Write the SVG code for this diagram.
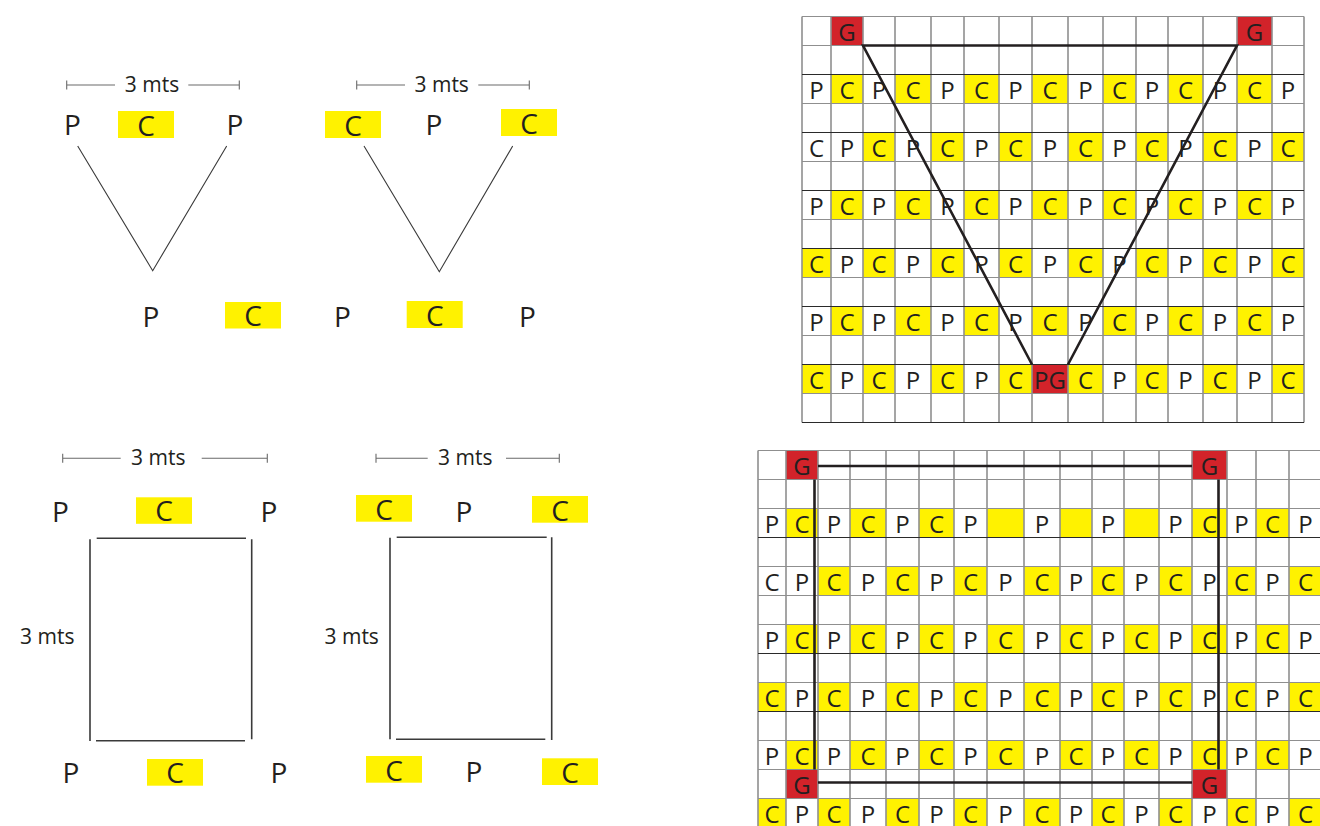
<svg xmlns="http://www.w3.org/2000/svg" width="1320" height="826" viewBox="0 0 1320 826">
<style>
.y{fill:#FFF200}
.r{fill:#D2232A}
.t{font-family:'Open Sans','Noto Sans',sans-serif;font-size:24px;fill:#231F20;text-anchor:middle}
.b{font-size:28px}
.d{font-size:21px}
.gv{stroke:#8f8f8f;stroke-width:1.6;fill:none}
.gh{stroke:#8f8f8f;stroke-width:1.2;fill:none}
.gk{stroke:#2a2a2a;stroke-width:1;fill:none}
.k{stroke:#231F20;stroke-width:2.6;fill:none}
.ln{stroke:#3a3a3a;stroke-width:1.1;fill:none}
.rl{stroke:#3a3a3a;stroke-width:1.6;fill:none}
.dl{stroke:#6a6a6a;stroke-width:1.1;fill:none}
</style>
<rect width="1320" height="826" fill="#ffffff"/>

<!-- Figure 1: triangle P C P -->
<g id="fig-triangle-1">
<path class="dl" d="M66.7 85H115M188.3 85H239.3M66.7 80.5V89.5M239.3 80.5V89.5"/>
<text class="t d" x="152" y="92">3 mts</text>
<rect class="y" x="118" y="111" width="56" height="27"/>
<rect class="y" x="225" y="302" width="56" height="26.5"/>
<text class="t b" x="72.5" y="135">P</text>
<text class="t b" x="146" y="135.5">C</text>
<text class="t b" x="235" y="135">P</text>
<text class="t b" x="151" y="326.7">P</text>
<text class="t b" x="253" y="326">C</text>
<path class="ln" d="M77.7 146L152.7 270.7L226.7 146"/>
</g>

<!-- Figure 2: triangle C P C -->
<g id="fig-triangle-2">
<path class="dl" d="M356.7 85H405M478.3 85H529.3M356.7 80.5V89.5M529.3 80.5V89.5"/>
<text class="t d" x="441.7" y="92">3 mts</text>
<rect class="y" x="325" y="111" width="56" height="27"/>
<rect class="y" x="501" y="109" width="56" height="27"/>
<rect class="y" x="406.7" y="301" width="56" height="27"/>
<text class="t b" x="353" y="135.5">C</text>
<text class="t b" x="434" y="135">P</text>
<text class="t b" x="529" y="133.5">C</text>
<text class="t b" x="342.5" y="326.7">P</text>
<text class="t b" x="434.7" y="325.5">C</text>
<text class="t b" x="527.5" y="326.7">P</text>
<path class="ln" d="M364 146L439.3 271.7L512.7 146"/>
</g>

<!-- Figure 3: square P C P -->
<g id="fig-square-1">
<path class="dl" d="M62.7 458.3H120.7M201.7 458.3H267.3M62.7 453.8V462.8M267.3 453.8V462.8"/>
<text class="t d" x="158.3" y="465">3 mts</text>
<rect class="y" x="136" y="497.3" width="56" height="26.5"/>
<rect class="y" x="147" y="759" width="56" height="26.7"/>
<text class="t b" x="60.5" y="521.7">P</text>
<text class="t b" x="164" y="521">C</text>
<text class="t b" x="269" y="521.7">P</text>
<path class="rl" d="M96.7 538.3H246M90 539.3V741M251.7 539.3V739.3M96 740.7H245"/>
<text class="t d" x="47.3" y="644.3">3 mts</text>
<text class="t b" x="71" y="783.3">P</text>
<text class="t b" x="175" y="783">C</text>
<text class="t b" x="279" y="783.3">P</text>
</g>

<!-- Figure 4: square C P C -->
<g id="fig-square-2">
<path class="dl" d="M376 458.3H427.7M506 458.3H559.3M376 453.8V462.8M559.3 453.8V462.8"/>
<text class="t d" x="465.3" y="465">3 mts</text>
<rect class="y" x="356" y="495" width="56" height="26.7"/>
<rect class="y" x="532" y="496" width="56" height="26.7"/>
<rect class="y" x="366" y="756" width="56" height="26.7"/>
<rect class="y" x="542" y="758.3" width="56" height="26.7"/>
<text class="t b" x="384" y="519.5">C</text>
<text class="t b" x="464" y="521.7">P</text>
<text class="t b" x="560" y="520.5">C</text>
<path class="rl" d="M396.7 537.3H546.7M390 537.7V739.3M551.7 537.3V740M396 739.3H545.3"/>
<text class="t d" x="351.7" y="644.3">3 mts</text>
<text class="t b" x="394" y="780.5">C</text>
<text class="t b" x="474" y="781.7">P</text>
<text class="t b" x="570" y="783">C</text>
</g>

<!-- Top-right grid (triangle layout) -->
<g id="grid-triangle">
<g id="grid-triangle-fills">
<rect class="r" x="831" y="16.5" width="32" height="29"/>
<rect class="r" x="1237" y="16.5" width="35" height="29"/>
<!-- row 2 -->
<rect class="y" x="831" y="74.5" width="32" height="29"/><rect class="y" x="895" y="74.5" width="36" height="29"/><rect class="y" x="964" y="74.5" width="35" height="29"/><rect class="y" x="1032" y="74.5" width="36" height="29"/><rect class="y" x="1103" y="74.5" width="33" height="29"/><rect class="y" x="1168" y="74.5" width="35" height="29"/><rect class="y" x="1237" y="74.5" width="35" height="29"/>
<!-- row 4 -->
<rect class="y" x="863" y="132.5" width="32" height="29"/><rect class="y" x="931" y="132.5" width="33" height="29"/><rect class="y" x="999" y="132.5" width="33" height="29"/><rect class="y" x="1068" y="132.5" width="35" height="29"/><rect class="y" x="1136" y="132.5" width="32" height="29"/><rect class="y" x="1203" y="132.5" width="34" height="29"/><rect class="y" x="1272" y="132.5" width="32" height="29"/>
<!-- row 6 -->
<rect class="y" x="831" y="190.5" width="32" height="29"/><rect class="y" x="895" y="190.5" width="36" height="29"/><rect class="y" x="964" y="190.5" width="35" height="29"/><rect class="y" x="1032" y="190.5" width="36" height="29"/><rect class="y" x="1103" y="190.5" width="33" height="29"/><rect class="y" x="1168" y="190.5" width="35" height="29"/><rect class="y" x="1237" y="190.5" width="35" height="29"/>
<!-- row 8 -->
<rect class="y" x="802" y="248.5" width="29" height="29"/><rect class="y" x="863" y="248.5" width="32" height="29"/><rect class="y" x="931" y="248.5" width="33" height="29"/><rect class="y" x="999" y="248.5" width="33" height="29"/><rect class="y" x="1068" y="248.5" width="35" height="29"/><rect class="y" x="1136" y="248.5" width="32" height="29"/><rect class="y" x="1203" y="248.5" width="34" height="29"/><rect class="y" x="1272" y="248.5" width="32" height="29"/>
<!-- row 10 -->
<rect class="y" x="831" y="306.5" width="32" height="29"/><rect class="y" x="895" y="306.5" width="36" height="29"/><rect class="y" x="964" y="306.5" width="35" height="29"/><rect class="y" x="1032" y="306.5" width="36" height="29"/><rect class="y" x="1103" y="306.5" width="33" height="29"/><rect class="y" x="1168" y="306.5" width="35" height="29"/><rect class="y" x="1237" y="306.5" width="35" height="29"/>
<!-- row 12 -->
<rect class="y" x="802" y="364.5" width="29" height="29"/><rect class="y" x="863" y="364.5" width="32" height="29"/><rect class="y" x="931" y="364.5" width="33" height="29"/><rect class="y" x="999" y="364.5" width="33" height="29"/><rect class="r" x="1032" y="364.5" width="36" height="29"/><rect class="y" x="1068" y="364.5" width="35" height="29"/><rect class="y" x="1136" y="364.5" width="32" height="29"/><rect class="y" x="1203" y="364.5" width="34" height="29"/><rect class="y" x="1272" y="364.5" width="32" height="29"/>
</g>
<path class="gv" d="M802 16.5V422.5M831 16.5V422.5M863 16.5V422.5M895 16.5V422.5M931 16.5V422.5M964 16.5V422.5M999 16.5V422.5M1032 16.5V422.5M1068 16.5V422.5M1103 16.5V422.5M1136 16.5V422.5M1168 16.5V422.5M1203 16.5V422.5M1237 16.5V422.5M1272 16.5V422.5M1304 16.5V422.5"/>
<path class="gh" d="M802 16.5H1304M802 45.5H1304M802 103.5H1304M802 161.5H1304M802 219.5H1304M802 277.5H1304M802 335.5H1304M802 393.5H1304"/>
<path class="gk" d="M802 74.5H1304M802 132.5H1304M802 190.5H1304M802 248.5H1304M802 306.5H1304M802 364.5H1304M802 422.5H1304"/>
<g id="grid-triangle-labels">
<text class="t" x="847" y="41">G</text><text class="t" x="1254.5" y="41">G</text>
<text class="t" x="816.5" y="99">P</text><text class="t" x="847" y="99">C</text><text class="t" x="879" y="99">P</text><text class="t" x="913" y="99">C</text><text class="t" x="947.5" y="99">P</text><text class="t" x="981.5" y="99">C</text><text class="t" x="1015.5" y="99">P</text><text class="t" x="1050" y="99">C</text><text class="t" x="1085.5" y="99">P</text><text class="t" x="1119.5" y="99">C</text><text class="t" x="1152" y="99">P</text><text class="t" x="1185.5" y="99">C</text><text class="t" x="1220" y="99">P</text><text class="t" x="1254.5" y="99">C</text><text class="t" x="1288" y="99">P</text>
<text class="t" x="816.5" y="157">C</text><text class="t" x="847" y="157">P</text><text class="t" x="879" y="157">C</text><text class="t" x="913" y="157">P</text><text class="t" x="947.5" y="157">C</text><text class="t" x="981.5" y="157">P</text><text class="t" x="1015.5" y="157">C</text><text class="t" x="1050" y="157">P</text><text class="t" x="1085.5" y="157">C</text><text class="t" x="1119.5" y="157">P</text><text class="t" x="1152" y="157">C</text><text class="t" x="1185.5" y="157">P</text><text class="t" x="1220" y="157">C</text><text class="t" x="1254.5" y="157">P</text><text class="t" x="1288" y="157">C</text>
<text class="t" x="816.5" y="215">P</text><text class="t" x="847" y="215">C</text><text class="t" x="879" y="215">P</text><text class="t" x="913" y="215">C</text><text class="t" x="947.5" y="215">P</text><text class="t" x="981.5" y="215">C</text><text class="t" x="1015.5" y="215">P</text><text class="t" x="1050" y="215">C</text><text class="t" x="1085.5" y="215">P</text><text class="t" x="1119.5" y="215">C</text><text class="t" x="1152" y="215">P</text><text class="t" x="1185.5" y="215">C</text><text class="t" x="1220" y="215">P</text><text class="t" x="1254.5" y="215">C</text><text class="t" x="1288" y="215">P</text>
<text class="t" x="816.5" y="273">C</text><text class="t" x="847" y="273">P</text><text class="t" x="879" y="273">C</text><text class="t" x="913" y="273">P</text><text class="t" x="947.5" y="273">C</text><text class="t" x="981.5" y="273">P</text><text class="t" x="1015.5" y="273">C</text><text class="t" x="1050" y="273">P</text><text class="t" x="1085.5" y="273">C</text><text class="t" x="1119.5" y="273">P</text><text class="t" x="1152" y="273">C</text><text class="t" x="1185.5" y="273">P</text><text class="t" x="1220" y="273">C</text><text class="t" x="1254.5" y="273">P</text><text class="t" x="1288" y="273">C</text>
<text class="t" x="816.5" y="331">P</text><text class="t" x="847" y="331">C</text><text class="t" x="879" y="331">P</text><text class="t" x="913" y="331">C</text><text class="t" x="947.5" y="331">P</text><text class="t" x="981.5" y="331">C</text><text class="t" x="1015.5" y="331">P</text><text class="t" x="1050" y="331">C</text><text class="t" x="1085.5" y="331">P</text><text class="t" x="1119.5" y="331">C</text><text class="t" x="1152" y="331">P</text><text class="t" x="1185.5" y="331">C</text><text class="t" x="1220" y="331">P</text><text class="t" x="1254.5" y="331">C</text><text class="t" x="1288" y="331">P</text>
<text class="t" x="816.5" y="389">C</text><text class="t" x="847" y="389">P</text><text class="t" x="879" y="389">C</text><text class="t" x="913" y="389">P</text><text class="t" x="947.5" y="389">C</text><text class="t" x="981.5" y="389">P</text><text class="t" x="1015.5" y="389">C</text><text class="t" x="1050" y="389">PG</text><text class="t" x="1085.5" y="389">C</text><text class="t" x="1119.5" y="389">P</text><text class="t" x="1152" y="389">C</text><text class="t" x="1185.5" y="389">P</text><text class="t" x="1220" y="389">C</text><text class="t" x="1254.5" y="389">P</text><text class="t" x="1288" y="389">C</text>
</g>
<path class="k" d="M1032 364.5L863 45.5H1237L1068 364.5"/>
</g>

<!-- Bottom-right grid (square layout) -->
<g id="grid-square">
<g id="grid-square-fills">
<rect class="r" x="786" y="450.5" width="32" height="29"/><rect class="r" x="1192" y="450.5" width="35" height="29"/>
<rect class="r" x="786" y="769.5" width="32" height="29"/><rect class="r" x="1192" y="769.5" width="35" height="29"/>
<!-- row 2 -->
<rect class="y" x="786" y="508.5" width="32" height="29"/><rect class="y" x="850" y="508.5" width="36" height="29"/><rect class="y" x="919" y="508.5" width="35" height="29"/><rect class="y" x="987" y="508.5" width="37" height="29"/><rect class="y" x="1060" y="508.5" width="32" height="29"/><rect class="y" x="1124" y="508.5" width="35" height="29"/><rect class="y" x="1192" y="508.5" width="35" height="29"/><rect class="y" x="1256" y="508.5" width="33" height="29"/>
<!-- row 4 -->
<rect class="y" x="818" y="566.5" width="32" height="29"/><rect class="y" x="886" y="566.5" width="33" height="29"/><rect class="y" x="954" y="566.5" width="33" height="29"/><rect class="y" x="1024" y="566.5" width="36" height="29"/><rect class="y" x="1092" y="566.5" width="32" height="29"/><rect class="y" x="1159" y="566.5" width="33" height="29"/><rect class="y" x="1227" y="566.5" width="29" height="29"/><rect class="y" x="1289" y="566.5" width="33" height="29"/>
<!-- row 6 -->
<rect class="y" x="786" y="624.5" width="32" height="29"/><rect class="y" x="850" y="624.5" width="36" height="29"/><rect class="y" x="919" y="624.5" width="35" height="29"/><rect class="y" x="987" y="624.5" width="37" height="29"/><rect class="y" x="1060" y="624.5" width="32" height="29"/><rect class="y" x="1124" y="624.5" width="35" height="29"/><rect class="y" x="1192" y="624.5" width="35" height="29"/><rect class="y" x="1256" y="624.5" width="33" height="29"/>
<!-- row 8 -->
<rect class="y" x="758" y="682.5" width="28" height="29"/><rect class="y" x="818" y="682.5" width="32" height="29"/><rect class="y" x="886" y="682.5" width="33" height="29"/><rect class="y" x="954" y="682.5" width="33" height="29"/><rect class="y" x="1024" y="682.5" width="36" height="29"/><rect class="y" x="1092" y="682.5" width="32" height="29"/><rect class="y" x="1159" y="682.5" width="33" height="29"/><rect class="y" x="1227" y="682.5" width="29" height="29"/><rect class="y" x="1289" y="682.5" width="33" height="29"/>
<!-- row 10 -->
<rect class="y" x="786" y="740.5" width="32" height="29"/><rect class="y" x="850" y="740.5" width="36" height="29"/><rect class="y" x="919" y="740.5" width="35" height="29"/><rect class="y" x="987" y="740.5" width="37" height="29"/><rect class="y" x="1060" y="740.5" width="32" height="29"/><rect class="y" x="1124" y="740.5" width="35" height="29"/><rect class="y" x="1192" y="740.5" width="35" height="29"/><rect class="y" x="1256" y="740.5" width="33" height="29"/>
<!-- row 12 -->
<rect class="y" x="758" y="798.5" width="28" height="29"/><rect class="y" x="818" y="798.5" width="32" height="29"/><rect class="y" x="886" y="798.5" width="33" height="29"/><rect class="y" x="954" y="798.5" width="33" height="29"/><rect class="y" x="1024" y="798.5" width="36" height="29"/><rect class="y" x="1092" y="798.5" width="32" height="29"/><rect class="y" x="1159" y="798.5" width="33" height="29"/><rect class="y" x="1227" y="798.5" width="29" height="29"/><rect class="y" x="1289" y="798.5" width="33" height="29"/>
</g>
<path class="gv" d="M758 450.5V827M786 450.5V827M818 450.5V827M850 450.5V827M886 450.5V827M919 450.5V827M954 450.5V827M987 450.5V827M1024 450.5V827M1060 450.5V827M1092 450.5V827M1124 450.5V827M1159 450.5V827M1192 450.5V827M1227 450.5V827M1256 450.5V827M1289 450.5V827"/>
<path class="gh" d="M758 450.5H1322M758 479.5H1322M758 508.5H1322M758 566.5H1322M758 595.5H1322M758 624.5H1322M758 682.5H1322M758 740.5H1322M758 769.5H1322M758 798.5H1322"/>
<path class="gk" d="M758 537.5H1322M758 653.5H1322M758 711.5H1322"/>
<g id="grid-square-labels">
<text class="t" x="802" y="475">G</text><text class="t" x="1209.5" y="475">G</text>
<text class="t" x="772" y="533">P</text><text class="t" x="802" y="533">C</text><text class="t" x="834" y="533">P</text><text class="t" x="868" y="533">C</text><text class="t" x="902.5" y="533">P</text><text class="t" x="936.5" y="533">C</text><text class="t" x="970.5" y="533">P</text><text class="t" x="1042" y="533">P</text><text class="t" x="1108" y="533">P</text><text class="t" x="1175.5" y="533">P</text><text class="t" x="1209.5" y="533">C</text><text class="t" x="1241.5" y="533">P</text><text class="t" x="1272.5" y="533">C</text><text class="t" x="1305.5" y="533">P</text>
<text class="t" x="772" y="591">C</text><text class="t" x="802" y="591">P</text><text class="t" x="834" y="591">C</text><text class="t" x="868" y="591">P</text><text class="t" x="902.5" y="591">C</text><text class="t" x="936.5" y="591">P</text><text class="t" x="970.5" y="591">C</text><text class="t" x="1005.5" y="591">P</text><text class="t" x="1042" y="591">C</text><text class="t" x="1076" y="591">P</text><text class="t" x="1108" y="591">C</text><text class="t" x="1141.5" y="591">P</text><text class="t" x="1175.5" y="591">C</text><text class="t" x="1209.5" y="591">P</text><text class="t" x="1241.5" y="591">C</text><text class="t" x="1272.5" y="591">P</text><text class="t" x="1305.5" y="591">C</text>
<text class="t" x="772" y="649">P</text><text class="t" x="802" y="649">C</text><text class="t" x="834" y="649">P</text><text class="t" x="868" y="649">C</text><text class="t" x="902.5" y="649">P</text><text class="t" x="936.5" y="649">C</text><text class="t" x="970.5" y="649">P</text><text class="t" x="1005.5" y="649">C</text><text class="t" x="1042" y="649">P</text><text class="t" x="1076" y="649">C</text><text class="t" x="1108" y="649">P</text><text class="t" x="1141.5" y="649">C</text><text class="t" x="1175.5" y="649">P</text><text class="t" x="1209.5" y="649">C</text><text class="t" x="1241.5" y="649">P</text><text class="t" x="1272.5" y="649">C</text><text class="t" x="1305.5" y="649">P</text>
<text class="t" x="772" y="707">C</text><text class="t" x="802" y="707">P</text><text class="t" x="834" y="707">C</text><text class="t" x="868" y="707">P</text><text class="t" x="902.5" y="707">C</text><text class="t" x="936.5" y="707">P</text><text class="t" x="970.5" y="707">C</text><text class="t" x="1005.5" y="707">P</text><text class="t" x="1042" y="707">C</text><text class="t" x="1076" y="707">P</text><text class="t" x="1108" y="707">C</text><text class="t" x="1141.5" y="707">P</text><text class="t" x="1175.5" y="707">C</text><text class="t" x="1209.5" y="707">P</text><text class="t" x="1241.5" y="707">C</text><text class="t" x="1272.5" y="707">P</text><text class="t" x="1305.5" y="707">C</text>
<text class="t" x="772" y="765">P</text><text class="t" x="802" y="765">C</text><text class="t" x="834" y="765">P</text><text class="t" x="868" y="765">C</text><text class="t" x="902.5" y="765">P</text><text class="t" x="936.5" y="765">C</text><text class="t" x="970.5" y="765">P</text><text class="t" x="1005.5" y="765">C</text><text class="t" x="1042" y="765">P</text><text class="t" x="1076" y="765">C</text><text class="t" x="1108" y="765">P</text><text class="t" x="1141.5" y="765">C</text><text class="t" x="1175.5" y="765">P</text><text class="t" x="1209.5" y="765">C</text><text class="t" x="1241.5" y="765">P</text><text class="t" x="1272.5" y="765">C</text><text class="t" x="1305.5" y="765">P</text>
<text class="t" x="802" y="794">G</text><text class="t" x="1209.5" y="794">G</text>
<text class="t" x="772" y="823">C</text><text class="t" x="802" y="823">P</text><text class="t" x="834" y="823">C</text><text class="t" x="868" y="823">P</text><text class="t" x="902.5" y="823">C</text><text class="t" x="936.5" y="823">P</text><text class="t" x="970.5" y="823">C</text><text class="t" x="1005.5" y="823">P</text><text class="t" x="1042" y="823">C</text><text class="t" x="1076" y="823">P</text><text class="t" x="1108" y="823">C</text><text class="t" x="1141.5" y="823">P</text><text class="t" x="1175.5" y="823">C</text><text class="t" x="1209.5" y="823">P</text><text class="t" x="1241.5" y="823">C</text><text class="t" x="1272.5" y="823">P</text><text class="t" x="1305.5" y="823">C</text>
</g>
<path class="k" d="M818 466H1192M814.5 479.5V769.5M1218.5 479.5V769.5M818 782.5H1192"/>
</g>
</svg>
